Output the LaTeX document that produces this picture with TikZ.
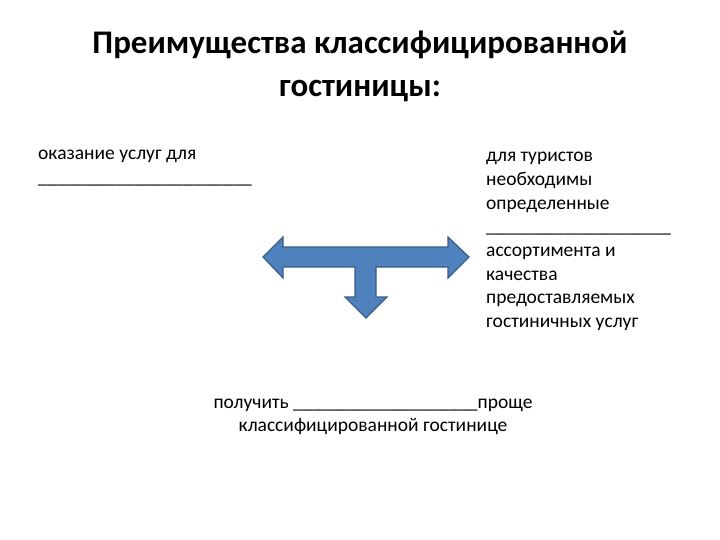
\documentclass[tikz,border=0pt]{standalone}
\usepackage{fontspec}
\setmainfont{Carlito}
\definecolor{afill}{HTML}{4F81BD}
\definecolor{aline}{HTML}{385D8A}
\begin{document}
\begin{tikzpicture}[x=1pt,y=-1pt,
  body/.style={font=\fontsize{19.5}{23.7}\selectfont, inner sep=0pt},
  ttl/.style={font=\fontsize{33}{43}\selectfont\bfseries, align=center, inner sep=0pt}]
\useasboundingbox (0,0) rectangle (720,540);
\node[ttl] (title) at (360,66) {Преимущества классифицированной\\гостиницы:};
\node[body, anchor=north west, align=left] (left) at (38,150) {оказание услуг для\\\_\_\_\_\_\_\_\_\_\_\_\_\_\_\_\_\_\_\_\_\_\_};
\node[body, anchor=north west, align=left] (right) at (486,152) {для туристов\\необходимы\\определенные\\\_\_\_\_\_\_\_\_\_\_\_\_\_\_\_\_\_\_\_\\ассортимента и\\качества\\предоставляемых\\гостиничных услуг};
\node[body, align=center] (bottom) at (373,417) {получить \_\_\_\_\_\_\_\_\_\_\_\_\_\_\_\_\_\_\_проще\\классифицированной гостинице};
\draw[fill=afill, draw=aline, line width=1.2pt, line join=miter]
 (263,257) -- (283,237) -- (283,247) -- (448,247) -- (448,237) -- (469,257)
 -- (448,278) -- (448,267) -- (376,267) -- (376,297) -- (387,297) -- (366,318)
 -- (345,297) -- (355,297) -- (355,267) -- (283,267) -- (283,278) -- cycle;
\end{tikzpicture}
\end{document}
